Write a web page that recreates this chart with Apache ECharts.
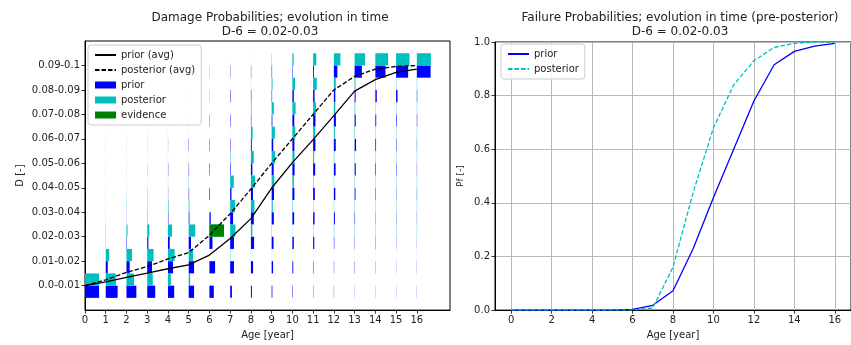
<!DOCTYPE html>
<html>
<head>
<meta charset="utf-8">
<script src="https://cdn.jsdelivr.net/npm/echarts@6/dist/echarts.min.js"></script>
<style>
  html, body { margin: 0; padding: 0; background: #fff; }
  #chart { width: 851px; height: 345px; }
</style>
</head>
<body>
<div id="chart"></div>
<script>
// ---- data ----
const ages = [0, 1, 2, 3, 4, 5, 6, 7, 8, 9, 10, 11, 12, 13, 14, 15, 16];
const binLabels = ['0.0-0.01', '0.01-0.02', '0.02-0.03', '0.03-0.04', '0.04-0.05',
  '0.05-0.06', '0.06-0.07', '0.07-0.08', '0.08-0.09', '0.09-0.1'];

// mean damage bin (in bin index units) per age
const priorAvg = [0, 0.15, 0.34, 0.51, 0.69, 0.85, 1.25, 1.93, 2.74, 3.99, 5.03, 5.97, 6.95, 7.95, 8.42, 8.72, 8.85];
const posteriorAvg = [0, 0.24, 0.54, 0.78, 1.09, 1.35, 2.06, 2.94, 3.95, 5.0, 6.0, 7.0, 8.0, 8.55, 8.85, 8.96, 9.0];

// probability per damage bin, one row per age
const priorProb = [
  [0.97, 0.004, 0.003, 0.002, 0.002, 0.002, 0.002, 0.002, 0.002, 0.002],
  [0.82, 0.14, 0.01, 0.005, 0.004, 0.004, 0.004, 0.004, 0.003, 0.003],
  [0.68, 0.22, 0.03, 0.008, 0.006, 0.005, 0.005, 0.004, 0.004, 0.004],
  [0.55, 0.33, 0.08, 0.015, 0.01, 0.008, 0.006, 0.005, 0.005, 0.005],
  [0.43, 0.35, 0.12, 0.03, 0.015, 0.02, 0.01, 0.008, 0.006, 0.006],
  [0.37, 0.37, 0.16, 0.05, 0.03, 0.025, 0.02, 0.01, 0.008, 0.008],
  [0.3, 0.39, 0.21, 0.09, 0.04, 0.03, 0.025, 0.02, 0.01, 0.01],
  [0.12, 0.26, 0.26, 0.2, 0.09, 0.04, 0.03, 0.03, 0.03, 0.02],
  [0.07, 0.15, 0.22, 0.2, 0.14, 0.1, 0.06, 0.03, 0.03, 0.02],
  [0.05, 0.1, 0.13, 0.15, 0.16, 0.14, 0.11, 0.05, 0.03, 0.03],
  [0.03, 0.06, 0.1, 0.12, 0.14, 0.15, 0.14, 0.13, 0.1, 0.03],
  [0.02, 0.03, 0.08, 0.1, 0.12, 0.14, 0.16, 0.16, 0.1, 0.06],
  [0.015, 0.02, 0.03, 0.07, 0.1, 0.12, 0.13, 0.14, 0.1, 0.24],
  [0.01, 0.02, 0.02, 0.03, 0.06, 0.08, 0.1, 0.08, 0.07, 0.5],
  [0.01, 0.015, 0.02, 0.02, 0.03, 0.04, 0.05, 0.06, 0.1, 0.7],
  [0.01, 0.01, 0.015, 0.02, 0.02, 0.03, 0.03, 0.04, 0.1, 0.83],
  [0.01, 0.01, 0.01, 0.015, 0.02, 0.02, 0.02, 0.03, 0.03, 0.95]
];
const posteriorProb = [
  [0.97, 0.004, 0.003, 0.002, 0.002, 0.002, 0.002, 0.002, 0.002, 0.002],
  [0.7, 0.24, 0.02, 0.005, 0.003, 0.003, 0.002, 0.002, 0.002, 0.002],
  [0.52, 0.38, 0.07, 0.015, 0.005, 0.004, 0.003, 0.002, 0.002, 0.002],
  [0.38, 0.44, 0.15, 0.02, 0.006, 0.004, 0.003, 0.002, 0.002, 0.002],
  [0.2, 0.46, 0.28, 0.04, 0.01, 0.004, 0.003, 0.002, 0.002, 0.002],
  [0.1, 0.3, 0.45, 0.05, 0.02, 0.005, 0.003, 0.002, 0.002, 0.002],
  [0, 0, 1, 0, 0, 0, 0, 0, 0, 0],
  [0.002, 0.02, 0.36, 0.34, 0.25, 0.03, 0.005, 0.003, 0.002, 0.002],
  [0.002, 0.01, 0.1, 0.24, 0.28, 0.2, 0.12, 0.04, 0.01, 0.003],
  [0.002, 0.005, 0.02, 0.08, 0.18, 0.24, 0.22, 0.15, 0.06, 0.02],
  [0.002, 0.004, 0.01, 0.03, 0.1, 0.15, 0.2, 0.22, 0.18, 0.09],
  [0.003, 0.005, 0.02, 0.02, 0.03, 0.07, 0.14, 0.2, 0.25, 0.22],
  [0.003, 0.005, 0.02, 0.02, 0.02, 0.03, 0.07, 0.1, 0.13, 0.45],
  [0.003, 0.005, 0.02, 0.02, 0.02, 0.02, 0.03, 0.04, 0.06, 0.72],
  [0.003, 0.005, 0.02, 0.02, 0.02, 0.02, 0.02, 0.02, 0.03, 0.88],
  [0.003, 0.005, 0.02, 0.02, 0.02, 0.02, 0.02, 0.02, 0.02, 0.92],
  [0.003, 0.005, 0.02, 0.02, 0.02, 0.02, 0.02, 0.02, 0.02, 0.97]
];

// inspection result: age 6, bin 0.02-0.03, certain
const evidence = [[6, 2, 1]];

// failure probability per age
const pfPrior = [0, 0, 0, 0, 0, 0, 0.003, 0.018, 0.072, 0.23, 0.42, 0.6, 0.78, 0.915, 0.965, 0.985, 0.995];
const pfPosterior = [0, 0, 0, 0, 0, 0, 0, 0.008, 0.16, 0.44, 0.68, 0.84, 0.93, 0.98, 0.995, 1.0, 1.0];

const binTicks = binLabels.map((_, i) => i);
const pfAgeTicks = ages.filter((a) => a % 2 === 0);

// ---- drawing ----
const FONT = 'DejaVu Sans';
const BAR_SCALE = 0.7; // bar length in years for probability 1

function barData(matrix) {
  const out = [];
  matrix.forEach((row, a) => row.forEach((p, b) => out.push([ages[a], b, p])));
  return out;
}

// lower=true: bar sits in the lower half of the bin row (prior), else upper half
function barRenderer(lower) {
  return function (params, api) {
    const age = api.value(0);
    const bin = api.value(1);
    const p = api.value(2);
    const yTop = lower ? bin : bin + 0.5;
    const tl = api.coord([age, yTop]);
    const br = api.coord([age + p * BAR_SCALE, yTop - 0.5]);
    return {
      type: 'rect',
      shape: { x: tl[0], y: tl[1], width: br[0] - tl[0], height: br[1] - tl[1] },
      style: { fill: api.visual('color') }
    };
  };
}

const axisText = { fontFamily: FONT, fontSize: 10, color: '#222' };
const axisLine = { show: true, onZero: false, lineStyle: { color: '#000', width: 1 } };
const axisTick = { show: true, length: 3.5, lineStyle: { color: '#000', width: 0.8 } };
const noSymbol = { opacity: 0 };

const chart = echarts.init(document.getElementById('chart'), null, { renderer: 'canvas' });

chart.setOption({
  animation: false,
  textStyle: { fontFamily: FONT },
  title: [
    {
      text: 'Damage Probabilities; evolution in time\nD-6 = 0.02-0.03',
      left: 265, top: 6, textAlign: 'center',
      textStyle: { fontFamily: FONT, fontSize: 12, fontWeight: 'normal', color: '#222', lineHeight: 14 }
    },
    {
      text: 'Failure Probabilities; evolution in time (pre-posterior)\nD-6 = 0.02-0.03',
      left: 675, top: 6, textAlign: 'center',
      textStyle: { fontFamily: FONT, fontSize: 12, fontWeight: 'normal', color: '#222', lineHeight: 14 }
    }
  ],
  legend: [
    {
      left: 88, top: 45, orient: 'vertical',
      itemWidth: 21, itemHeight: 7, itemGap: 3,
      padding: [4, 6, 4, 6],
      backgroundColor: 'rgba(255,255,255,0.85)',
      borderColor: '#ccc', borderWidth: 1, borderRadius: 3,
      textStyle: { fontFamily: FONT, fontSize: 10, color: '#222', lineHeight: 12 },
      data: [
        { name: 'prior (avg)', itemStyle: noSymbol },
        { name: 'posterior (avg)', itemStyle: noSymbol },
        { name: 'prior', icon: 'rect' },
        { name: 'posterior', icon: 'rect' },
        { name: 'evidence', icon: 'rect' }
      ]
    },
    {
      left: 501, top: 44, orient: 'vertical',
      itemWidth: 21, itemHeight: 7, itemGap: 3,
      padding: [4, 6, 4, 6],
      backgroundColor: 'rgba(255,255,255,0.85)',
      borderColor: '#ccc', borderWidth: 1, borderRadius: 3,
      textStyle: { fontFamily: FONT, fontSize: 10, color: '#222', lineHeight: 12 },
      formatter: (name) => name.replace('Pf ', ''),
      data: [
        { name: 'Pf prior', itemStyle: noSymbol },
        { name: 'Pf posterior', itemStyle: noSymbol }
      ]
    }
  ],
  grid: [
    { left: 85, right: 401, top: 41, bottom: 33, show: true, borderColor: '#000', borderWidth: 1 },
    { left: 495, right: -10, top: 42, bottom: 32, show: true, borderColor: '#000', borderWidth: 1 }
  ],
  xAxis: [
    {
      type: 'value', gridIndex: 0, min: 0, max: 17.6, interval: 1,
      name: 'Age [year]', nameLocation: 'middle', nameGap: 19,
      nameTextStyle: { fontFamily: FONT, fontSize: 10, color: '#222' },
      axisLine, axisTick: Object.assign({ customValues: ages }, axisTick),
      axisLabel: Object.assign({ customValues: ages, margin: 5, formatter: (v) => (v <= 16 ? String(v) : '') }, axisText),
      splitLine: { show: false }
    },
    {
      type: 'value', gridIndex: 1, min: -0.8, max: 16.8, splitNumber: 8,
      name: 'Age [year]', nameLocation: 'middle', nameGap: 18,
      nameTextStyle: { fontFamily: FONT, fontSize: 10, color: '#222' },
      axisLine, axisTick: Object.assign({ customValues: pfAgeTicks }, axisTick),
      axisLabel: Object.assign({ customValues: pfAgeTicks, margin: 5,
        formatter: (v) => (v >= 0 && v % 2 === 0 ? String(v) : '') }, axisText),
      splitLine: { show: true, lineStyle: { color: '#b8b8b8', width: 1 } }
    }
  ],
  yAxis: [
    {
      type: 'value', gridIndex: 0, min: -1, max: 10, interval: 1,
      name: 'D [-]', nameLocation: 'middle', nameGap: 60,
      nameTextStyle: { fontFamily: FONT, fontSize: 10, color: '#222' },
      axisLine, axisTick: Object.assign({ customValues: binTicks }, axisTick),
      axisLabel: Object.assign({ customValues: binTicks, margin: 5,
        formatter: (v) => (binLabels[v] !== undefined ? binLabels[v] : '') }, axisText),
      splitLine: { show: false }
    },
    {
      type: 'value', gridIndex: 1, min: 0, max: 1, interval: 0.2,
      name: 'Pf [-]', nameLocation: 'middle', nameGap: 30,
      nameTextStyle: { fontFamily: FONT, fontSize: 9, color: '#222' },
      axisLine, axisTick,
      axisLabel: Object.assign({ margin: 5, formatter: (v) => v.toFixed(1) }, axisText),
      splitLine: { show: true, lineStyle: { color: '#b8b8b8', width: 1 } }
    }
  ],
  series: [
    {
      name: 'prior', type: 'custom', xAxisIndex: 0, yAxisIndex: 0,
      itemStyle: { color: '#0000ff' },
      renderItem: barRenderer(true), encode: { x: 0, y: 1 },
      data: barData(priorProb), z: 1
    },
    {
      name: 'posterior', type: 'custom', xAxisIndex: 0, yAxisIndex: 0,
      itemStyle: { color: '#00bfbf' },
      renderItem: barRenderer(false), encode: { x: 0, y: 1 },
      data: barData(posteriorProb), z: 1
    },
    {
      name: 'evidence', type: 'custom', xAxisIndex: 0, yAxisIndex: 0,
      itemStyle: { color: '#008000' },
      renderItem: barRenderer(false), encode: { x: 0, y: 1 },
      data: evidence, z: 2
    },
    {
      name: 'prior (avg)', type: 'line', xAxisIndex: 0, yAxisIndex: 0,
      data: ages.map((a, i) => [a, priorAvg[i]]),
      symbol: 'none', color: '#000',
      lineStyle: { color: '#000', width: 1.3 }, z: 3
    },
    {
      name: 'posterior (avg)', type: 'line', xAxisIndex: 0, yAxisIndex: 0,
      data: ages.map((a, i) => [a, posteriorAvg[i]]),
      symbol: 'none', color: '#000',
      lineStyle: { color: '#000', width: 1.3, type: [4.5, 2] }, z: 3
    },
    {
      name: 'Pf prior', type: 'line', xAxisIndex: 1, yAxisIndex: 1,
      data: ages.map((a, i) => [a, pfPrior[i]]),
      symbol: 'none', color: '#0000ff',
      lineStyle: { color: '#0000ff', width: 1.3 }, z: 3
    },
    {
      name: 'Pf posterior', type: 'line', xAxisIndex: 1, yAxisIndex: 1,
      data: ages.map((a, i) => [a, pfPosterior[i]]),
      symbol: 'none', color: '#00bfbf',
      lineStyle: { color: '#00bfbf', width: 1.3, type: [4.5, 2] }, z: 3
    }
  ]
});
</script>
</body>
</html>
